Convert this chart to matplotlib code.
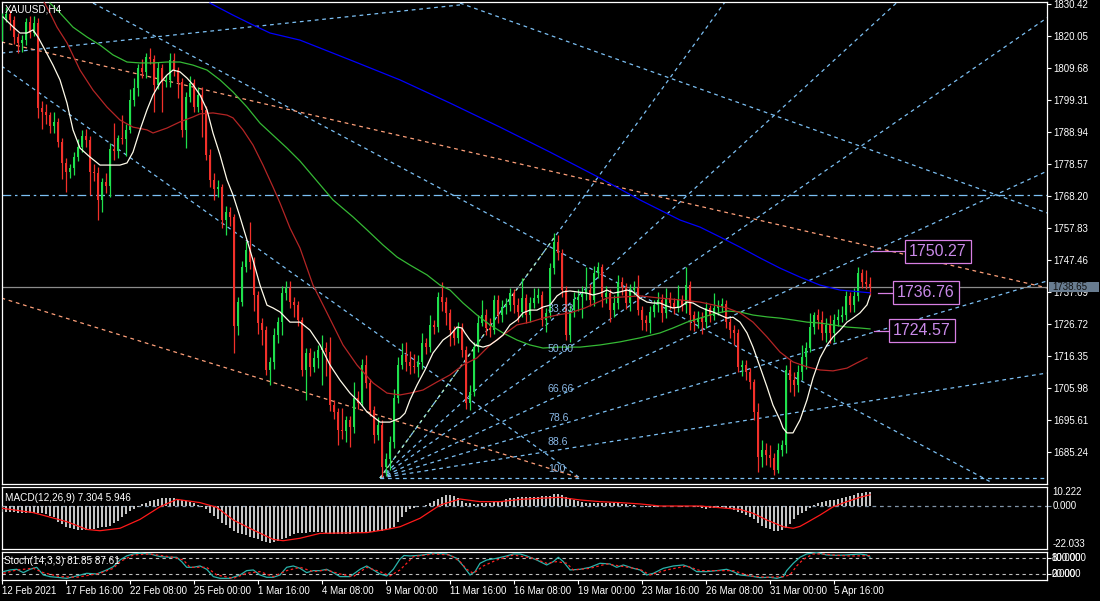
import matplotlib
matplotlib.use('Agg')
import matplotlib.pyplot as plt
from matplotlib.patches import Rectangle
import numpy as np

plt.rcParams['font.family'] = ['Liberation Sans', 'DejaVu Sans']

# ---------------- data (XAUUSD H4) ----------------
first_open = 1819.7
closes = [
    1825.9, 1827.2, 1825.2, 1819.7, 1817.8, 1818.7, 1824.6, 1821.0, 1824.2, 1796.7,
    1795.4, 1794.4, 1790.9, 1792.2, 1785.7, 1778.9, 1775.9, 1777.3, 1780.8, 1784.1,
    1787.6, 1786.3, 1775.9, 1775.6, 1766.9, 1772.7, 1771.4, 1783.4, 1782.8, 1786.9,
    1786.6, 1789.6, 1799.3, 1803.2, 1809.7, 1808.4, 1813.2, 1812.6, 1804.2, 1809.7,
    1805.1, 1805.8, 1812.3, 1809.0, 1805.1, 1789.6, 1800.3, 1804.8, 1797.0, 1800.9,
    1796.1, 1781.5, 1773.4, 1770.4, 1771.1, 1760.4, 1763.0, 1761.4, 1726.0, 1733.8,
    1745.2, 1750.7, 1746.8, 1736.1, 1727.0, 1724.7, 1711.8, 1714.4, 1723.1, 1727.3,
    1736.7, 1738.4, 1733.8, 1732.9, 1728.0, 1711.8, 1717.3, 1712.8, 1715.7, 1718.3,
    1718.9, 1717.6, 1700.4, 1698.2, 1692.3, 1692.0, 1695.6, 1693.3, 1702.7, 1701.1,
    1713.4, 1707.6, 1698.8, 1690.7, 1694.0, 1680.4, 1682.9, 1688.4, 1702.7, 1713.4,
    1716.6, 1714.4, 1713.1, 1712.8, 1714.4, 1720.5, 1719.2, 1726.4, 1725.7, 1735.4,
    1733.8, 1730.3, 1724.7, 1722.2, 1725.4, 1718.3, 1701.1, 1704.7, 1719.2, 1727.0,
    1729.6, 1725.4, 1724.7, 1734.5, 1729.6, 1732.2, 1732.8, 1736.7, 1732.8, 1730.6,
    1735.1, 1729.6, 1733.5, 1735.1, 1736.1, 1728.0, 1730.3, 1744.8, 1753.3, 1749.7,
    1737.7, 1723.1, 1731.2, 1734.5, 1735.4, 1736.4, 1737.7, 1734.5, 1743.2, 1745.2,
    1735.4, 1736.7, 1731.2, 1733.5, 1740.3, 1738.7, 1733.5, 1737.7, 1738.4, 1731.2,
    1728.0, 1727.0, 1730.6, 1732.8, 1734.5, 1730.3, 1735.1, 1733.5, 1731.9, 1734.5,
    1732.8, 1739.3, 1729.6, 1727.3, 1728.6, 1727.3, 1731.9, 1729.3, 1731.9, 1732.5,
    1733.2, 1727.3, 1724.7, 1723.8, 1712.8, 1713.4, 1711.1, 1707.9, 1698.2, 1683.6,
    1685.9, 1684.2, 1683.3, 1679.4, 1685.9, 1687.5, 1711.8, 1708.5, 1706.9, 1711.1,
    1716.0, 1718.9, 1725.7, 1729.6, 1728.0, 1723.8, 1726.4, 1723.8, 1728.0, 1729.0,
    1729.6, 1735.8, 1732.8, 1735.8, 1743.2, 1740.3, 1739.7, 1738.65]
highs = [
    1827.5, 1829.5, 1828.5, 1826.5, 1821.0, 1820.5, 1826.0, 1826.5, 1826.5, 1826.0,
    1799.0, 1798.0, 1795.5, 1795.5, 1793.5, 1787.0, 1780.5, 1778.5, 1782.5, 1786.5,
    1789.5, 1790.0, 1787.5, 1778.5, 1777.5, 1774.0, 1775.5, 1785.5, 1791.8, 1788.0,
    1794.4, 1791.5, 1803.0, 1806.5, 1811.0, 1812.5, 1814.5, 1816.1, 1814.0, 1811.5,
    1811.0, 1807.5, 1814.5, 1814.5, 1810.0, 1806.5, 1802.0, 1807.0, 1806.0, 1803.5,
    1803.5, 1797.5, 1783.5, 1775.5, 1773.5, 1772.0, 1765.0, 1764.5, 1762.5, 1735.5,
    1747.0, 1753.5, 1759.8, 1748.5, 1737.5, 1728.6, 1726.0, 1716.0, 1725.5, 1729.0,
    1739.0, 1740.5, 1740.5, 1735.5, 1734.0, 1729.0, 1719.0, 1719.0, 1718.0, 1720.0,
    1723.1, 1721.0, 1722.5, 1702.0, 1699.5, 1699.5, 1697.0, 1697.0, 1708.0, 1705.0,
    1715.5, 1716.5, 1709.0, 1700.0, 1696.5, 1695.5, 1685.0, 1690.5, 1705.5, 1716.0,
    1720.5, 1720.9, 1718.0, 1717.0, 1716.5, 1723.8, 1722.0, 1729.6, 1728.0, 1737.0,
    1740.3, 1735.5, 1731.5, 1726.0, 1727.3, 1727.0, 1719.5, 1707.0, 1721.0, 1729.5,
    1734.5, 1731.5, 1728.5, 1736.0, 1736.0, 1734.5, 1735.0, 1738.5, 1738.0, 1735.0,
    1741.6, 1736.5, 1735.5, 1738.4, 1738.5, 1737.5, 1732.0, 1746.5, 1756.2, 1755.5,
    1751.0, 1739.0, 1733.0, 1737.0, 1738.0, 1739.0, 1745.2, 1739.5, 1745.5, 1746.8,
    1746.0, 1739.0, 1738.0, 1736.0, 1742.5, 1742.0, 1740.0, 1739.5, 1740.5, 1742.6,
    1732.5, 1729.5, 1732.5, 1734.5, 1737.0, 1736.5, 1738.4, 1737.0, 1735.0, 1739.3,
    1736.0, 1745.2, 1740.5, 1731.0, 1731.0, 1730.5, 1733.8, 1733.0, 1736.7, 1734.5,
    1735.0, 1734.5, 1728.5, 1726.5, 1725.0, 1715.0, 1715.0, 1712.5, 1709.0, 1701.0,
    1689.0, 1688.0, 1687.5, 1685.0, 1688.0, 1689.1, 1713.5, 1715.0, 1711.0, 1713.5,
    1720.0, 1721.0, 1730.3, 1730.5, 1731.5, 1731.0, 1728.5, 1729.5, 1730.0, 1731.5,
    1732.5, 1737.5, 1737.0, 1738.5, 1745.2, 1744.5, 1744.2, 1741.9]
lows = [
    1818.5, 1824.5, 1822.0, 1817.5, 1814.5, 1815.0, 1817.0, 1819.5, 1820.0, 1793.5,
    1789.8, 1791.5, 1788.5, 1788.5, 1784.0, 1773.7, 1769.5, 1774.0, 1775.0, 1779.5,
    1782.5, 1784.0, 1768.5, 1773.0, 1760.5, 1763.0, 1769.0, 1767.9, 1780.0, 1780.5,
    1785.0, 1781.0, 1788.5, 1797.5, 1800.5, 1806.5, 1806.5, 1811.0, 1795.4, 1803.0,
    1795.4, 1803.5, 1803.5, 1807.0, 1800.0, 1787.3, 1783.7, 1798.5, 1795.5, 1795.5,
    1787.3, 1780.0, 1771.0, 1766.9, 1768.0, 1757.8, 1755.5, 1758.5, 1717.3, 1723.0,
    1732.5, 1743.5, 1744.5, 1731.0, 1723.5, 1720.0, 1710.2, 1706.9, 1712.0, 1720.5,
    1723.0, 1734.5, 1732.0, 1729.0, 1726.0, 1710.0, 1702.1, 1710.0, 1711.0, 1712.5,
    1707.0, 1710.0, 1698.5, 1696.0, 1687.5, 1689.5, 1688.5, 1686.8, 1691.5, 1699.0,
    1700.0, 1706.0, 1697.0, 1688.1, 1689.0, 1677.0, 1677.5, 1679.5, 1686.5, 1701.0,
    1712.0, 1711.5, 1710.5, 1710.8, 1709.5, 1712.0, 1717.0, 1717.5, 1723.5, 1724.0,
    1731.0, 1726.5, 1719.5, 1720.0, 1720.5, 1716.0, 1699.0, 1698.8, 1703.5, 1717.5,
    1726.0, 1723.0, 1722.5, 1723.5, 1727.0, 1727.5, 1730.0, 1731.0, 1730.3, 1727.5,
    1729.0, 1727.0, 1727.5, 1732.0, 1733.5, 1726.0, 1724.0, 1728.5, 1743.0, 1747.5,
    1735.5, 1721.5, 1720.9, 1729.0, 1731.0, 1728.5, 1734.5, 1732.5, 1732.5, 1741.5,
    1732.2, 1733.5, 1727.3, 1729.0, 1731.5, 1736.0, 1731.5, 1731.0, 1736.0, 1729.5,
    1724.7, 1724.5, 1723.8, 1729.0, 1730.5, 1727.3, 1728.5, 1731.5, 1730.0, 1730.5,
    1731.0, 1730.3, 1724.7, 1724.5, 1725.5, 1723.5, 1725.5, 1727.5, 1728.0, 1729.5,
    1730.5, 1725.5, 1722.0, 1720.0, 1711.0, 1710.0, 1708.5, 1705.5, 1695.6, 1678.7,
    1680.5, 1681.0, 1680.5, 1677.8, 1678.5, 1684.0, 1685.0, 1704.5, 1703.5, 1704.5,
    1708.5, 1712.0, 1717.5, 1723.5, 1725.0, 1721.5, 1721.0, 1720.5, 1721.0, 1726.0,
    1727.5, 1728.0, 1730.5, 1730.5, 1734.0, 1738.5, 1738.0, 1736.1]

# moving averages, vertices: (bar, price)
ma_white = [
    (0.25, 1826.2), (2.75, 1823.0), (4.5, 1821.0), (6.25, 1821.0), (7.75, 1822.0), (9, 1819.7),
    (10.75, 1815.5), (12.75, 1810.6), (14.5, 1805.8), (16.25, 1798.3), (17.75, 1789.6), (19.5, 1783.7),
    (22, 1780.8), (24.5, 1778.2), (29.5, 1778.2), (31.25, 1778.9), (32.75, 1782.4), (34.5, 1789.6),
    (36.25, 1796.1), (37.75, 1800.9), (39.5, 1804.8), (41.25, 1807.4), (42.75, 1809.0), (44.5, 1808.4),
    (46.25, 1806.4), (47.75, 1804.2), (49.5, 1800.9), (51.25, 1796.1), (52.75, 1788.6), (54.5, 1781.5),
    (56.25, 1773.4), (57.75, 1768.5), (59.5, 1761.4), (61.25, 1753.9), (62.75, 1747.4), (64.5, 1739.3),
    (66.25, 1732.8), (67.75, 1731.9), (69.5, 1730.6), (72, 1727.3), (74.5, 1727.3), (77, 1724.7),
    (79.5, 1719.9), (82, 1713.4), (84.5, 1708.5), (87, 1704.3), (89.5, 1701.1), (91.25, 1698.2),
    (94.5, 1694.9), (97, 1694.9), (99.5, 1696.2), (100.75, 1697.8), (102, 1702.1), (103.75, 1706.9),
    (105.75, 1711.8), (107.75, 1717.3), (110.25, 1721.5), (112, 1723.1), (113.75, 1725.7), (115, 1725.4),
    (115.75, 1723.8), (117, 1721.5), (118.25, 1719.9), (120.25, 1719.2), (122, 1719.9), (123.75, 1721.5),
    (125.25, 1723.1), (127, 1726.4), (128.75, 1728.0), (130.25, 1730.3), (132, 1731.2), (133.75, 1731.2),
    (135.25, 1732.2), (137, 1732.8), (138.75, 1735.8), (140.25, 1737.1), (142, 1737.4), (143.75, 1737.1),
    (146.25, 1736.7), (147.75, 1736.1), (149.5, 1736.7), (151.25, 1737.7), (152.75, 1736.7),
    (154.5, 1737.1), (156.25, 1737.7), (157.75, 1737.1), (159.5, 1735.1), (161.25, 1733.8), (162.75, 1733.5),
    (164.5, 1733.5), (166.25, 1732.5), (167.75, 1731.9), (169.5, 1732.2), (171.25, 1733.8), (172.75, 1733.5),
    (174.5, 1732.2), (176.25, 1731.2), (177.75, 1730.6), (179.5, 1729.6), (181.25, 1728.6), (182.75, 1728.9),
    (184.5, 1727.3), (186.25, 1723.8), (187.75, 1719.2), (189.5, 1712.8), (191.25, 1706.3), (192.75, 1700.4),
    (194.5, 1695.6), (195.25, 1693.0), (196.25, 1691.4), (197.75, 1691.4), (199.5, 1695.6), (201.25, 1702.1),
    (202.75, 1709.2), (204.5, 1715.7), (206.25, 1719.9), (207.75, 1722.5), (209.5, 1724.7), (211.25, 1727.3),
    (212.75, 1728.6), (214.5, 1730.3), (216.25, 1732.9), (217, 1735.8)]
ma_red = [
    (10.25, 1831.7), (12, 1827.5), (13.75, 1822.9), (16.25, 1817.8), (19.5, 1809.0), (22.75, 1802.5),
    (26.25, 1797.0), (29.5, 1792.8), (32.75, 1790.5), (36.25, 1789.6), (37.75, 1788.6), (41.25, 1790.2),
    (44.5, 1792.2), (47.75, 1793.8), (49.5, 1794.8), (52.75, 1795.1), (56.25, 1794.4), (57.75, 1793.5),
    (60.25, 1789.6), (62.75, 1784.7), (65.25, 1778.2), (67.75, 1771.1), (69.5, 1765.9), (72, 1757.8),
    (74.5, 1751.3), (77.75, 1739.3), (81.25, 1730.3), (85.25, 1719.9), (88.75, 1713.4), (92.75, 1707.6),
    (96.25, 1704.3), (99.5, 1703.7), (102, 1704.3), (105.25, 1705.3), (108.75, 1707.9), (112, 1710.2),
    (115.25, 1713.4), (118.75, 1715.7), (122, 1719.9), (125.25, 1723.1), (128.75, 1726.4), (132, 1727.3),
    (135.25, 1728.6), (138.75, 1729.6), (142, 1730.3), (145.75, 1731.9), (151.25, 1735.1), (154.5, 1735.4),
    (159.5, 1735.8), (164.5, 1735.1), (169.5, 1734.5), (174.5, 1733.8), (177.75, 1732.9), (181.25, 1731.9),
    (184.5, 1730.3), (187.75, 1727.3), (191.25, 1722.5), (194.5, 1717.6), (197.75, 1714.4), (201.25, 1712.8),
    (204.5, 1711.8), (207.75, 1711.5), (211.25, 1712.4), (213.75, 1714.1), (216.25, 1715.7)]
ma_green = [
    (12, 1830.7), (14.5, 1827.5), (17.75, 1822.9), (21.25, 1819.7), (24.5, 1817.1), (27.75, 1813.9),
    (31.25, 1811.6), (34.5, 1811.3), (37.75, 1811.3), (41.25, 1811.6), (44.5, 1811.6), (47.75, 1810.6),
    (51.25, 1809.0), (54.5, 1805.8), (57.75, 1801.9), (61.25, 1797.0), (64.5, 1791.8), (67.75, 1787.9),
    (71.25, 1783.7), (74.5, 1779.5), (82.75, 1766.9), (87.75, 1761.4), (91.25, 1757.2), (95.25, 1752.3),
    (98.75, 1748.4), (102, 1745.8), (106.25, 1742.6), (109.5, 1739.3), (112, 1737.7), (115.25, 1733.5),
    (118.75, 1729.6), (122, 1726.4), (125.25, 1723.8), (128.75, 1721.5), (132, 1719.9), (135.25, 1718.9),
    (138.75, 1719.2), (144.5, 1719.2), (149.5, 1719.9), (154.5, 1720.9), (159.5, 1722.2), (164.5, 1723.8),
    (167.75, 1725.4), (171.25, 1727.3), (174.5, 1728.6), (177.75, 1729.9), (181.25, 1730.9), (184.5, 1730.6),
    (187.75, 1729.6), (191.25, 1729.0), (194.5, 1728.6), (197.75, 1728.0), (201.25, 1727.3), (204.5, 1727.0),
    (207.75, 1726.4), (211.25, 1725.7), (214.5, 1725.4), (217, 1725.1)]
ma_blue = [
    (52, 1830.7), (57.75, 1826.8), (62.75, 1823.6), (67, 1821.0), (74.5, 1818.7), (87, 1812.3),
    (99.5, 1805.8), (112, 1798.3), (124.5, 1790.5), (137, 1782.4), (149.5, 1774.0), (159.5, 1766.9),
    (169.5, 1760.4), (174.5, 1758.1), (179.5, 1754.9), (184.5, 1751.6), (189.5, 1748.1), (194.5, 1744.8),
    (199.5, 1741.9), (204.5, 1739.3), (209.5, 1737.7), (214.5, 1737.1), (217, 1736.8)]

# drawn objects: (bar0, price0, bar1, price1)
blue_trendlines = [(22.75, 1830.7, 247.75, 1675.1), (-0.125, 1810.3, 144.5, 1676.8),
                   (114.5, 1830.7, 261.25, 1762.7), (-0.125, 1814.5, 114.5, 1830.1)]
orange_trendlines = [(-0.125, 1818.1, 261.25, 1738.4), (-0.125, 1735.1, 144.5, 1676.8)]
support_level = 1768.5
fan_start = (94.5, 1676.8)
fan_end = (138, 1754.6)
fan_levels = [0, 33.33, 50, 66.66, 78.6, 88.6, 100]
fan_labels = ['', '33.33', '50.00', '66.66', '78.6', '88.6', '100']
last_price = 1738.65
callout_prices = [1750.27, 1736.76, 1724.57]
callout_from_bar = [217.75, 219, 218]
callout_box_bar = [226.8, 223.8, 222.8]

price_ticks = [1830.42, 1820.05, 1809.68, 1799.31, 1788.94, 1778.57, 1768.20, 1757.83,
               1747.46, 1737.09, 1726.72, 1716.35, 1705.98, 1695.61, 1685.24]

macd_hist = [
    -3.0, -3.2, -3.4, -3.4, -3.5, -3.5, -3.7, -3.9, -3.9, -3.9,
    -3.9, -4.2, -5.3, -6.0, -8.3, -9.7, -11.0, -11.8, -12.4, -12.7,
    -12.7, -12.7, -12.4, -12.0, -11.5, -11.1, -11.0, -10.4, -9.2, -7.8,
    -6.0, -4.2, -2.7, -1.6, -0.4, 1.1, 1.8, 2.5, 3.2, 3.7,
    4.1, 4.1, 4.4, 4.2, 3.9, 3.2, 2.7, 2.1, 1.4, 0.7,
    -0.4, -1.8, -3.5, -5.3, -7.1, -8.8, -10.1, -11.8, -13.1, -14.5,
    -15.0, -15.5, -16.3, -17.1, -17.7, -18.4, -19.1, -19.4, -19.1, -18.4,
    -17.7, -17.0, -15.9, -15.0, -14.5, -14.3, -14.1, -14.0, -13.6, -13.6,
    -13.8, -14.5, -14.8, -15.0, -15.0, -14.8, -14.8, -14.7, -14.5, -14.5,
    -14.5, -14.3, -14.0, -13.6, -13.1, -13.1, -12.7, -12.2, -11.0, -8.3,
    -6.0, -3.2, -1.8, -1.1, -0.5, -0.2, 0.4, 1.4, 2.7, 3.5,
    4.9, 5.7, 5.8, 5.3, 4.1, 2.7, 1.8, 1.4, 1.1, 1.2,
    1.4, 1.6, 1.8, 1.9, 2.3, 2.8, 3.5, 4.1, 4.4, 4.6,
    4.9, 4.8, 4.6, 4.8, 4.9, 5.3, 5.3, 5.5, 6.2, 6.4,
    5.7, 4.9, 4.1, 3.2, 2.7, 1.9, 1.6, 1.4, 1.6, 1.8,
    1.8, 1.8, 1.4, 1.4, 1.4, 1.2, 1.1, 0.7, 0.5, 0.2,
    -0.2, -0.4, -0.7, -0.5, -0.4, -0.2, 0.0, 0.0, -0.2, -0.2,
    -0.4, -0.2, 0.0, -0.4, -0.5, -1.1, -1.4, -1.2, -1.1, -0.7,
    -0.7, -1.1, -1.6, -2.1, -3.0, -3.9, -4.8, -5.7, -7.1, -8.8,
    -10.6, -11.8, -12.4, -13.1, -13.3, -12.7, -11.8, -9.5, -7.1, -4.8,
    -3.5, -2.5, -0.9, 0.5, 1.4, 1.9, 2.7, 3.2, 3.4, 3.7,
    4.1, 4.8, 5.3, 6.0, 6.7, 7.1, 7.2, 7.3]
macd_signal = [
    (0, -1.2), (7.8, -3.5), (16.2, -8.3), (21.2, -12.4), (24.5, -13.1), (29.5, -11.8), (34.5, -7.1),
    (39.5, -0.4), (43.7, 3.5), (49.5, 1.8), (53.7, -0.7), (57.8, -7.4), (62.8, -12.7), (67.8, -17.7),
    (70.3, -18.4), (74.5, -17.1), (79.5, -14.5), (91.2, -14.1), (96.2, -12.4), (99.5, -11.0),
    (104.5, -6.5), (109.5, 0.5), (114.5, 3.7), (119.5, 2.3), (124.5, 2.3), (129.5, 3.5), (134.5, 4.1),
    (139.5, 4.6), (144.5, 3.2), (149.5, 2.3), (154.5, 1.8), (159.5, 1.1), (164.5, 0.0), (174.5, 0.0),
    (179.5, -0.9), (184.5, -1.8), (187.8, -3.9), (191.2, -7.4), (195.3, -11.0), (197.8, -11.8),
    (199.5, -10.8), (201.2, -8.8), (204.5, -4.8), (207.8, -0.4), (211.2, 2.3), (214.5, 4.6), (217, 5.946)]
macd_scale = ['10.222', '0.000', '-22.033']

stoch_main = [
    (0.33, 29.6), (2, 35.7), (3.67, 38.1), (5.33, 26.0), (7, 38.1), (8.67, 45.3), (10.33, 17.6),
    (12, 11.6), (13.67, 9.2), (16.17, 5.5), (18.67, 14.0), (21.17, 23.6), (23.67, 21.2), (26.17, 35.7),
    (27.83, 47.7), (29.5, 71.8), (31.17, 86.3), (32.83, 93.5), (34.5, 95.9), (37, 93.5), (39.5, 83.9),
    (42, 81.5), (43.67, 81.5), (44.92, 65.8), (46.17, 45.3), (47.83, 45.3), (49.5, 50.1), (51.17, 38.1),
    (52.83, 11.6), (54.5, 5.5), (57, 5.5), (59.5, 17.6), (61.17, 33.3), (62.83, 35.7), (64.5, 17.6),
    (66.17, 9.2), (67.83, 9.2), (69.5, 17.6), (71.17, 45.3), (72.83, 50.1), (74.5, 41.7), (76.17, 26.0),
    (77.83, 33.3), (79.5, 33.3), (81.17, 38.1), (82.83, 26.0), (84.5, 11.6), (87, 11.6), (89.5, 38.1),
    (91.17, 50.1), (92.83, 35.7), (94.5, 21.2), (96.17, 14.0), (97.83, 38.1), (99.5, 75.0), (100.5, 88.0),
    (102, 86.3), (104.5, 88.7), (107.83, 95.9), (111.17, 93.5), (113.67, 77.8), (115.33, 50.1),
    (117, 17.6), (118.25, 29.6), (119.5, 59.8), (121.17, 71.8), (123.67, 77.8), (126.17, 86.3),
    (127.83, 93.5), (129.5, 93.5), (131.17, 86.3), (133.67, 71.8), (136.17, 53.7), (137.83, 65.8),
    (139.08, 81.5), (140.33, 65.8), (142, 35.7), (144.5, 38.1), (147, 45.3), (149.5, 59.8), (152, 57.4),
    (153.67, 45.3), (155.33, 53.7), (157.83, 41.7), (159.5, 35.7), (161.17, 17.6), (162.83, 23.6),
    (165.33, 41.7), (167.83, 50.1), (170.33, 53.7), (172, 45.3), (173.67, 29.6), (176.17, 29.6),
    (178.67, 33.3), (181.17, 38.1), (182.83, 29.6), (184.5, 17.6), (187, 14.0), (189.5, 8.0), (192, 9.2),
    (193.67, 5.5), (195.33, 11.6), (196.17, 33.3), (197.83, 59.8), (199.5, 81.5), (201.17, 93.5),
    (203.67, 98.3), (206.17, 89.9), (208.67, 88.7), (211.17, 89.9), (214.5, 93.5), (216.17, 89.9),
    (217, 81.85)]
stoch_signal = [
    (0.33, 23.6), (3.67, 35.7), (7.83, 41.7), (10.33, 26.0), (14.5, 11.6), (18.67, 9.2), (24.5, 23.6),
    (27.83, 41.7), (29.5, 65.8), (32.83, 89.9), (37, 93.5), (42.83, 81.5), (45.33, 71.8), (47, 45.3),
    (51.17, 45.3), (53.67, 17.6), (57.83, 5.5), (61.17, 23.6), (64.5, 29.6), (67.83, 11.6), (71.17, 33.3),
    (74.5, 45.3), (77.83, 29.6), (81.17, 35.7), (84.5, 21.2), (87.83, 11.6), (91.17, 45.3), (94.5, 29.6),
    (97, 14.0), (99.5, 35.7), (102.83, 83.9), (107.83, 93.5), (112, 89.9), (114.5, 65.8), (116.17, 38.1),
    (117.83, 23.6), (120.33, 50.1), (123.67, 71.8), (127.83, 89.9), (132.83, 77.8), (136.17, 59.8),
    (138.67, 65.8), (141.17, 59.8), (142.83, 35.7), (147, 41.7), (151.17, 57.4), (154.5, 50.1),
    (159.5, 38.1), (162, 17.6), (166.17, 35.7), (171.17, 50.1), (174.5, 33.3), (179.5, 33.3),
    (182.83, 33.3), (187, 14.0), (191.17, 9.2), (195.33, 11.6), (197, 17.6), (198.67, 50.1),
    (200.33, 74.2), (202.83, 93.5), (205.33, 93.5), (208.67, 88.7), (212, 86.3), (217, 87.61)]

date_ticks = [0, 16, 32, 48, 64, 80, 96, 112, 128, 144, 160, 176, 192, 208]
date_labels = ['12 Feb 2021', '17 Feb 16:00', '22 Feb 08:00', '25 Feb 00:00', '1 Mar 16:00',
               '4 Mar 08:00', '9 Mar 00:00', '11 Mar 16:00', '16 Mar 08:00', '19 Mar 00:00',
               '23 Mar 16:00', '26 Mar 08:00', '31 Mar 00:00', '5 Apr 16:00']

# ---------------- styling ----------------
BULL, BEAR = '#1fe04c', '#f2302a'
LBLUE, SALMON, ORCHID = '#7cc0f4', '#ffa07a', '#d77fe3'
W, H = 1100, 601

fig = plt.figure(figsize=(W / 100, H / 100), dpi=100, facecolor='black')


def panel(top, bottom):
    a = fig.add_axes([1.5 / W, 1 - bottom / H, (1047 - 1.5) / W, (bottom - top) / H])
    a.set_facecolor('black')
    for s in a.spines.values():
        s.set_color('white')
        s.set_linewidth(0.9)
    a.set_xlim(-0.125, 261.25)
    a.tick_params(left=False, bottom=False, labelleft=False, labelbottom=False)
    return a


ax = panel(2, 484)
axm = panel(487, 549)
axs = panel(552, 580)

# ---- main price panel ----
ax.set_ylim(1674.84, 1831.05)
ax.yaxis.tick_right()
ax.set_yticks(price_ticks)
ax.set_yticklabels([f'{v:.2f}' for v in price_ticks])
ax.tick_params(axis='y', right=True, labelright=True, colors='white', labelsize=7,
               length=3, width=0.8, pad=1.2)

dash = (0, (3, 3))
for b0, p0, b1, p1 in blue_trendlines:
    ax.plot([b0, b1], [p0, p1], color=LBLUE, lw=0.9, ls=dash, zorder=2)
for b0, p0, b1, p1 in orange_trendlines:
    ax.plot([b0, b1], [p0, p1], color=SALMON, lw=0.9, ls=dash, zorder=2)
ax.axhline(support_level, color=LBLUE, lw=0.9, ls=(0, (7, 3, 2, 3)), zorder=2)

# fibonacci fan
x_end = 261.25
for lvl, lab in zip(fan_levels, fan_labels):
    p_lvl = fan_end[1] - lvl / 100 * (fan_end[1] - fan_start[1])
    k = (p_lvl - fan_start[1]) / (fan_end[0] - fan_start[0])
    ax.plot([fan_start[0], x_end], [fan_start[1], fan_start[1] + k * (x_end - fan_start[0])],
            color=LBLUE, lw=0.9, ls=dash, zorder=2)
    if lab:
        ax.text(fan_end[0] - 1.5, p_lvl + 1.2, lab, color='#8ab8e6', fontsize=7.6,
                ha='left', va='bottom', zorder=7)
ax.plot([fan_start[0], fan_end[0]], [fan_start[1], fan_end[1]], color='#b4f0b4', lw=0.9,
        ls=(0, (2, 3)), zorder=2)

# current price line
ax.axhline(last_price, color='#8c8c8c', lw=0.9, zorder=2)

# candles
idx = np.arange(len(closes))
c = np.array(closes)
o = np.r_[first_open, c[:-1]]
col = np.where(c >= o, BULL, BEAR)
ax.vlines(idx, lows, highs, colors=col, lw=0.9, zorder=4)
ax.bar(idx, np.maximum(np.abs(c - o), 0.35), bottom=np.minimum(o, c), width=0.74,
       color=col, lw=0, zorder=5)

# moving averages
for pts, colr in [(ma_blue, '#0000ff'), (ma_green, '#35b935'), (ma_red, '#b42525'),
                  (ma_white, '#fffbea')]:
    xs, ys = zip(*pts)
    ax.plot(xs, ys, color=colr, lw=0.9, zorder=6)

# price callouts
for p, b_from, b_box in zip(callout_prices, callout_from_bar, callout_box_bar):
    ax.plot([b_from, b_box], [p, p], color=ORCHID, lw=0.9, zorder=7)
    ax.text(b_box, p, f'{p:.2f}', color='#c98ae8', fontsize=11.5, ha='left', va='center', zorder=8,
            bbox=dict(boxstyle='square,pad=0.25', fc='black', ec=ORCHID, lw=0.9))

# last price tag on the scale
ax.add_patch(Rectangle((1.0017, last_price - 1.62), 0.048, 3.24, transform=ax.get_yaxis_transform(),
                       fc='#687c90', ec='none', clip_on=False, zorder=9))
ax.text(1.0047, last_price, f'{last_price:.2f}', transform=ax.get_yaxis_transform(),
        color='#111111', fontsize=7, va='center', ha='left', clip_on=False, zorder=10)

fig.text(5 / W, 1 - 9 / H, 'XAUUSD,H4', color='white', fontsize=7.2, va='center', ha='left')

# ---- MACD panel ----
axm.set_ylim(-22.79, 10.07)
axm.bar(idx, macd_hist, width=0.5, color='#c4c4c4', lw=0, zorder=3)
axm.axhline(0, color='#8094a8', lw=0.9, ls=dash, zorder=2)
sx, sy = zip(*macd_signal)
axm.plot(sx, sy, color='#ff1a1a', lw=0.9, zorder=4)
axm.yaxis.tick_right()
axm.set_yticks([0])
axm.tick_params(axis='y', right=True, labelright=False, colors='#8094a8', length=3, width=0.8)
for val, lab in zip([7.6, 0.0, -20.1], macd_scale):
    axm.text(1.0055, val, lab, transform=axm.get_yaxis_transform(), color='white', fontsize=7,
             va='center', ha='left', clip_on=False)
axm.text(0.003, 0.83, 'MACD(12,26,9) 7.304 5.946', transform=axm.transAxes, color='white',
         fontsize=7.2, va='center', ha='left')

# ---- Stochastic panel ----
axs.set_ylim(-0.6, 100.6)
for lvl in (80, 20):
    axs.axhline(lvl, color='#c0c0c0', lw=0.8, ls=dash, zorder=2)
mx, my = zip(*stoch_main)
axs.plot(mx, my, color='#2ab4ac', lw=0.9, zorder=4)
gx, gy = zip(*stoch_signal)
axs.plot(gx, gy, color='#ff2020', lw=0.9, ls=(0, (2, 2)), zorder=5)
axs.yaxis.tick_right()
axs.set_yticks([20, 80])
axs.tick_params(axis='y', right=True, labelright=False, colors='white', length=3, width=0.8)
for val, labs in [(80, ['100.000', '80.000']), (20, ['20.000', '0.000'])]:
    for lab in labs:
        axs.text(1.0045, val, lab, transform=axs.get_yaxis_transform(), color='white',
                 fontsize=7, va='center', ha='left', clip_on=False)
axs.text(0.002, 0.68, 'Stoch(14,3,3) 81.85 87.61', transform=axs.transAxes, color='white',
         fontsize=7.2, va='center', ha='left', zorder=6)

axs.set_xticks(date_ticks)
axs.set_xticklabels(date_labels)
axs.tick_params(axis='x', bottom=True, labelbottom=True, colors='white', labelsize=7,
                length=3, width=0.8, pad=1.5, direction='out')
for t in axs.get_xticklabels():
    t.set_ha('left')

fig.savefig('out.png', dpi=100, facecolor='black')
